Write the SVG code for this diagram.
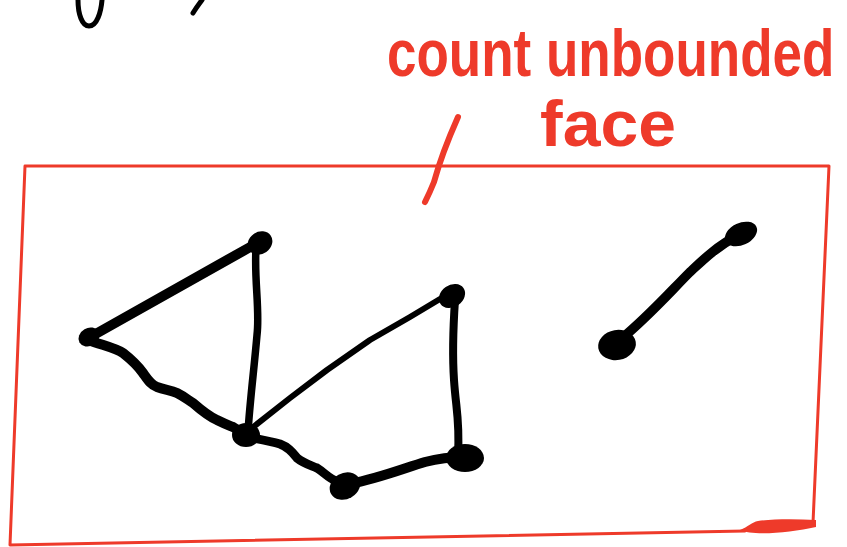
<svg xmlns="http://www.w3.org/2000/svg" width="847" height="547" viewBox="0 0 847 547">
<style>
.red{stroke:#EE3A2A;fill:none;stroke-linecap:round;stroke-linejoin:round}
.ink{stroke:#000;fill:none;stroke-linecap:round;stroke-linejoin:round}
.node{fill:#000}
.note{fill:#EE3A2A;font-family:"Liberation Sans",Arial,sans-serif;font-weight:bold}
</style>
<rect width="847" height="547" fill="#fff"/>
<g id="cut-off-ink">
<path class="ink" stroke-width="5" d="M78,0 C78,14 82,26 89,26 C97,26 101,12 102,0"/>
<path class="ink" stroke-width="5" d="M193,13 C196,8 199,4 202,0"/>
</g>
<g id="frame">
<path class="red" stroke-width="3" d="M25,166 L829,166 L813,523 M745,531 L10,545 L25,166"/>
<path fill="#EE3A2A" d="M740,530 C752,536 790,533 816,527 L816,520 C795,519 772,519 758,521 C752,522 748,527 740,530 Z"/>
</g>
<g id="annotation">
<text class="note" font-size="53" transform="translate(387,76) scale(1,1.25)" x="0" y="0">count unbounded</text>
<text class="note" font-size="64" x="540" y="146" textLength="136" lengthAdjust="spacingAndGlyphs">face</text>
<path class="red" stroke-width="6" d="M458,117 C450,135 440,160 434,182 C430,192 427,198 425,202"/>
</g>
<g id="connectors">
<path class="ink" stroke-width="10" d="M92,336 Q170,292 252,246"/>
<path class="ink" stroke-width="7.5" d="M256,248 C254,280 260,310 257,335 C254,370 250,400 248,432"/>
<path class="ink" stroke-width="10" d="M88,340 C105,346 115,348 123,353 C132,360 138,366 143,373 C148,380 151,385 157,387 C165,390 171,390 177,393 C185,397 188,400 193,403 C201,410 208,416 217,420 C225,424 228,425 233,427 C238,430 240,432 245,434"/>
<path class="ink" stroke-width="6" d="M252,428 L290,398 L327,370 L370,340 L410,317 L440,299"/>
<path class="ink" stroke-width="8" d="M455,300 C453,330 452,350 454,380 C456,410 460,420 458,455"/>
<path class="ink" stroke-width="9" d="M248,437 C258,439 270,441 280,444 C288,447 292,452 297,458 C303,463 310,465 317,468 C325,473 328,478 338,482"/>
<path class="ink" stroke-width="10" d="M350,484 C380,478 405,468 425,462 C440,458 452,457 465,457"/>
<path class="ink" stroke-width="9.5" d="M620,340 C650,315 670,292 690,272 C705,258 715,248 738,235"/>
</g>
<g id="nodeA"><ellipse class="node" cx="260" cy="243" rx="13" ry="11" transform="rotate(-35 260 243)"/></g>
<g id="nodeB"><ellipse class="node" cx="89" cy="337" rx="11" ry="9" transform="rotate(-30 89 337)"/></g>
<g id="nodeC"><ellipse class="node" cx="246" cy="435" rx="14" ry="12"/></g>
<g id="nodeD"><ellipse class="node" cx="452" cy="296" rx="14" ry="11" transform="rotate(-35 452 296)"/></g>
<g id="nodeE"><ellipse class="node" cx="465" cy="458" rx="19" ry="14"/></g>
<g id="nodeF"><ellipse class="node" cx="345" cy="486" rx="16" ry="13" transform="rotate(-30 345 486)"/></g>
<g id="nodeG"><ellipse class="node" cx="741" cy="234" rx="17" ry="11" transform="rotate(-25 741 234)"/></g>
<g id="nodeH"><ellipse class="node" cx="617" cy="345" rx="19" ry="15" transform="rotate(-10 617 345)"/></g>
</svg>
